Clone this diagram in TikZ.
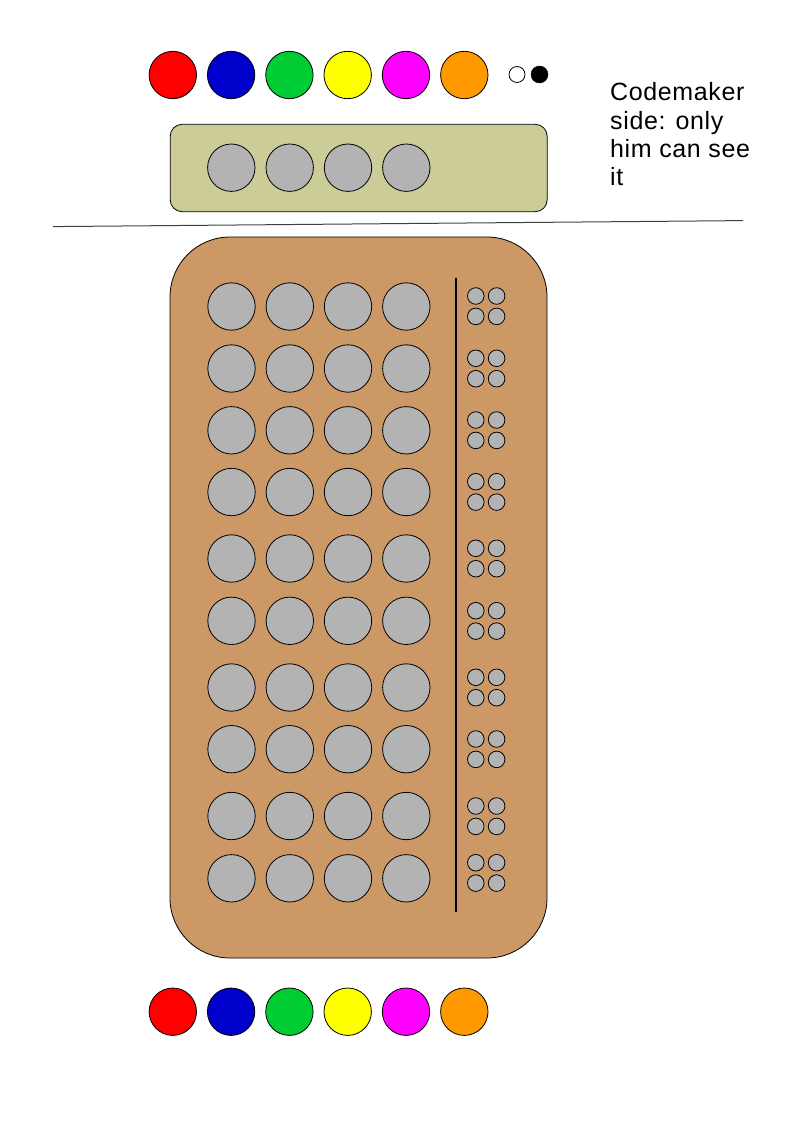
\documentclass[tikz,border=0pt]{standalone}
\usepackage{fontspec}
\setmainfont{Liberation Sans}

\definecolor{pegred}{HTML}{FF0000}
\definecolor{pegblue}{HTML}{0000CC}
\definecolor{peggreen}{HTML}{00CC33}
\definecolor{pegyellow}{HTML}{FFFF00}
\definecolor{pegmagenta}{HTML}{FF00FF}
\definecolor{pegorange}{HTML}{FF9900}
\definecolor{holegray}{HTML}{B3B3B3}
\definecolor{boardtan}{HTML}{CC9966}
\definecolor{panelkhaki}{HTML}{CCCC99}

\tikzset{
  peg/.style={circle,draw,inner sep=0pt,minimum size=47.4pt,line width=0.8pt},
  hole/.style={peg,fill=holegray},
  keyhole/.style={circle,draw,fill=holegray,inner sep=0pt,minimum size=16.6pt,line width=0.8pt},
  board/.style={draw,line width=0.8pt,inner sep=0pt},
}

\begin{document}
\begin{tikzpicture}[x=1pt,y=-1pt]
    \useasboundingbox (0,0) rectangle (794,1123);

    % codemaker side
    \begin{scope}[every node/.style={peg}]
      \node[fill=pegred]     (t-red)     at (172.8,75) {};
      \node[fill=pegblue]    (t-blue)    at (231.1,75) {};
      \node[fill=peggreen]   (t-green)   at (289.4,75) {};
      \node[fill=pegyellow]  (t-yellow)  at (347.7,75) {};
      \node[fill=pegmagenta] (t-magenta) at (406.0,75) {};
      \node[fill=pegorange]  (t-orange)  at (464.3,75) {};
    \end{scope}
    \node[circle,draw,fill=white,inner sep=0pt,minimum size=16pt,line width=0.8pt] (t-white) at (517,74.5) {};
    \node[circle,draw,fill=black,inner sep=0pt,minimum size=17pt] (t-black) at (539.5,74.5) {};

    \node[board,fill=panelkhaki,rounded corners=12pt,minimum width=377pt,minimum height=87.4pt] (panel) at (358.7,168) {};
    \begin{scope}[every node/.style={hole}]
      \node (code-1) at (231.3,167.7) {};
      \node (code-2) at (289.7,167.7) {};
      \node (code-3) at (348.0,167.7) {};
      \node (code-4) at (406.3,167.7) {};
    \end{scope}

    \node[anchor=north west,inner sep=0pt,align=left,font=\fontsize{25}{28.2}\selectfont\addfontfeature{LetterSpace=2.5}] (note) at (610,82.6)
      {Codemaker\\side: only\\him can see\\it};

    % separator
    \coordinate (sep-l) at (53,226.6);
    \coordinate (sep-r) at (743,220.6);
    \draw[black!75,line width=1pt] (sep-l) -- (sep-r);

    % codebreaker board
    \node[board,fill=boardtan,rounded corners=60pt,minimum width=377pt,minimum height=721pt] (board) at (358.5,597.5) {};
    \coordinate (div-t) at (456,278);
    \coordinate (div-b) at (456,912);
    \draw[line width=1.6pt] (div-t) -- (div-b);

    \foreach \r/\y/\k in {1/306.5/296, 2/368.5/358.3, 3/430.3/420, 4/492/481.7, 5/558.5/548.3,
                          6/620.8/610.7, 7/687.5/677.3, 8/749.2/739, 9/816/806, 10/878.3/862.7} {
      \foreach \c/\x in {1/231.5, 2/289.8, 3/348, 4/406.3}
        \node[hole] (h-\r-\c) at (\x,\y) {};
      \node[keyhole] (k-\r-1) at (475.8,\k) {};
      \node[keyhole] (k-\r-2) at (496.6,\k) {};
      \node[keyhole] (k-\r-3) at (475.8,\k+20.4) {};
      \node[keyhole] (k-\r-4) at (496.6,\k+20.4) {};
    }

    % colour palette
    \begin{scope}[every node/.style={peg}]
      \node[fill=pegred]     (b-red)     at (172.8,1011.7) {};
      \node[fill=pegblue]    (b-blue)    at (231.1,1011.7) {};
      \node[fill=peggreen]   (b-green)   at (289.4,1011.7) {};
      \node[fill=pegyellow]  (b-yellow)  at (347.7,1011.7) {};
      \node[fill=pegmagenta] (b-magenta) at (406.0,1011.7) {};
      \node[fill=pegorange]  (b-orange)  at (464.3,1011.7) {};
    \end{scope}
\end{tikzpicture}
\end{document}
